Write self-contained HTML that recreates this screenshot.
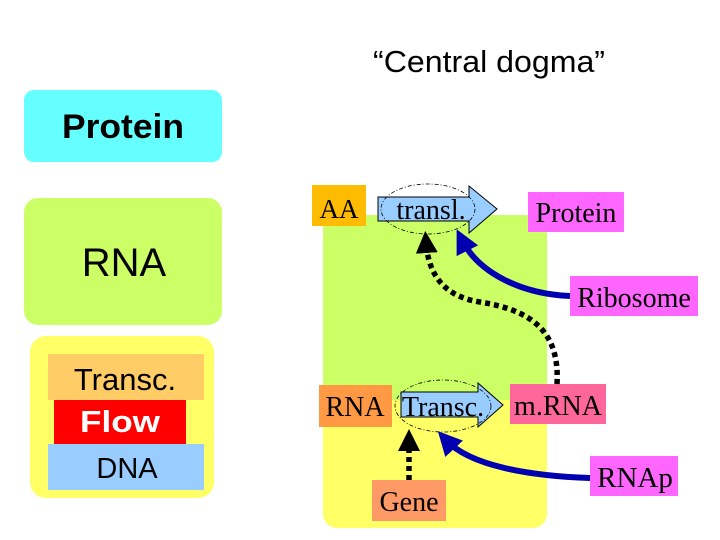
<!DOCTYPE html>
<html><head><style>
html,body{margin:0;padding:0;background:#fff;width:720px;height:540px;overflow:hidden}
svg text{font-family:"Liberation Serif",serif}
.s{font-family:"Liberation Sans",sans-serif}
</style></head><body>
<svg width="720" height="540" viewBox="0 0 720 540" xmlns="http://www.w3.org/2000/svg">
<defs>
<marker id="bh" markerWidth="4" markerHeight="4" refX="2" refY="2" orient="auto" markerUnits="strokeWidth"><path d="M0,0 L4,2 L0,4 z" fill="#0000b0"/></marker>
<marker id="kh" markerWidth="4" markerHeight="4" refX="2" refY="2" orient="auto" markerUnits="strokeWidth"><path d="M0,0 L4,2 L0,4 z" fill="#000"/></marker>
</defs>
<text x="489" y="72" text-anchor="middle" class="s" font-size="31" textLength="232" lengthAdjust="spacingAndGlyphs">“Central dogma”</text>
<!-- left -->
<rect x="24" y="90" width="198" height="72" rx="10" fill="#66ffff"/>
<text x="123" y="138" text-anchor="middle" class="s" font-size="34" font-weight="bold" textLength="122" lengthAdjust="spacingAndGlyphs">Protein</text>
<rect x="24" y="198" width="198" height="127" rx="14" fill="#ccff66"/>
<text x="124" y="276" text-anchor="middle" class="s" font-size="40">RNA</text>
<rect x="30" y="336" width="184" height="162" rx="16" fill="#ffff66"/>
<rect x="48" y="354" width="156" height="46" fill="#ffcc66"/>
<text x="125" y="390" text-anchor="middle" class="s" font-size="31">Transc.</text>
<rect x="54" y="400" width="132" height="44" fill="#ff0000"/>
<text x="120" y="432" text-anchor="middle" class="s" font-size="31" font-weight="bold" fill="#fff" textLength="80" lengthAdjust="spacingAndGlyphs">Flow</text>
<rect x="48" y="444" width="156" height="46" fill="#99ccff"/>
<text x="127" y="478" text-anchor="middle" class="s" font-size="29">DNA</text>
<!-- right background -->
<rect x="323" y="360" width="224" height="168" rx="14" fill="#ffff66"/>
<rect x="323" y="215" width="224" height="185" rx="14" fill="#ccff66"/>
<!-- boxes -->
<rect x="312" y="185" width="54" height="41" fill="#ffbb00"/>
<text x="339" y="218" text-anchor="middle" font-size="27">AA</text>
<path d="M378,197 H469 V186 L497,209 L469,233 V221 H378 Z" fill="#99ccff" stroke="#000" stroke-width="1"/>
<ellipse cx="428" cy="209" rx="47" ry="25" fill="none" stroke="#000" stroke-width="0.8" stroke-dasharray="4,2,1,2"/>
<text x="431" y="219" text-anchor="middle" font-size="28">transl.</text>
<rect x="528" y="192" width="96" height="40" fill="#ff66ff"/>
<text x="576" y="222" text-anchor="middle" font-size="28">Protein</text>
<rect x="570" y="276" width="128" height="40" fill="#ff66ff"/>
<text x="634" y="307" text-anchor="middle" font-size="28">Ribosome</text>
<rect x="319" y="385" width="73" height="42" fill="#ff9944"/>
<text x="355" y="416" text-anchor="middle" font-size="28">RNA</text>
<path d="M401,392 H478 V383 L503,405 L478,427 V417 H401 Z" fill="#99ccff" stroke="#000" stroke-width="1"/>
<ellipse cx="443" cy="406" rx="48" ry="26" fill="none" stroke="#000" stroke-width="0.8" stroke-dasharray="4,2,1,2"/>
<text x="443" y="416" text-anchor="middle" font-size="28">Transc.</text>
<rect x="510" y="384" width="96" height="40" fill="#ff6699"/>
<text x="558" y="415" text-anchor="middle" font-size="28">m.RNA</text>
<rect x="372" y="480" width="74" height="41" fill="#ff9966"/>
<text x="409" y="511" text-anchor="middle" font-size="28">Gene</text>
<rect x="590" y="456" width="88" height="40" fill="#ff66ff"/>
<text x="635" y="487" text-anchor="middle" font-size="29">RNAp</text>
<!-- connectors -->
<path d="M570,296 C520,294 478,272 462,240" fill="none" stroke="#0000b0" stroke-width="6" marker-end="url(#bh)"/>
<path d="M590,478 C530,476 470,466 446,440" fill="none" stroke="#0000b0" stroke-width="6" marker-end="url(#bh)"/>
<path d="M557,384 C560,330 530,310 480,302 C440,296 428,270 426,242" fill="none" stroke="#000" stroke-width="5.5" stroke-dasharray="5,4" marker-end="url(#kh)"/>
<path d="M409,480 L409,440" fill="none" stroke="#000" stroke-width="5.5" stroke-dasharray="5,4" marker-end="url(#kh)"/>
</svg>
</body></html>
